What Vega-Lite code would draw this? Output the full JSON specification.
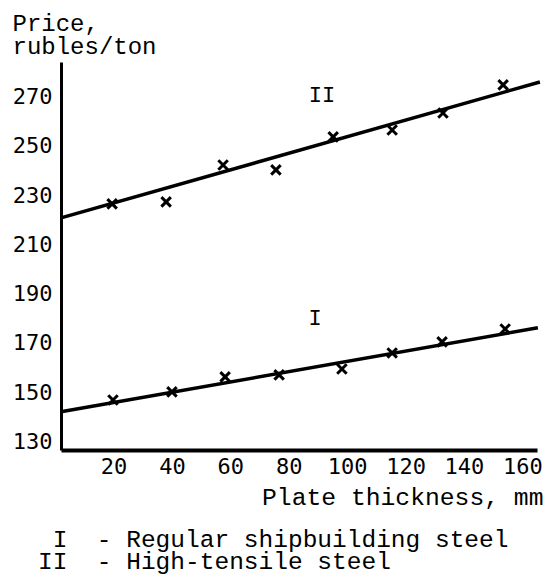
{
  "$schema": "https://vega.github.io/schema/vega-lite/v6.json",
  "autosize": "none",
  "width": 476,
  "height": 388,
  "padding": {"left": 61, "top": 62, "right": 9, "bottom": 127},
  "background": "white",
  "config": {
    "view": {"stroke": null},
    "font": "Liberation Mono"
  },
  "title": {
    "text": [
      "\u200b\u00a0I\u00a0\u00a0-\u00a0Regular shipbuilding steel",
      "\u200bII\u00a0\u00a0-\u00a0High-tensile steel"
    ],
    "orient": "bottom",
    "anchor": "start",
    "frame": "group",
    "font": "Liberation Mono",
    "fontSize": 24.5,
    "fontWeight": "normal",
    "lineHeight": 22,
    "baseline": "alphabetic",
    "color": "black",
    "dx": -23,
    "offset": 38
  },
  "datasets": {
    "lines": [
      {"steel": "I", "thickness": 2, "price": 142.0},
      {"steel": "I", "thickness": 165.3, "price": 176.1},
      {"steel": "II", "thickness": 2, "price": 220.7},
      {"steel": "II", "thickness": 166, "price": 275.9}
    ],
    "points": [
      {"steel": "I", "thickness": 19.8, "price": 146.8},
      {"steel": "I", "thickness": 40.0, "price": 150.1},
      {"steel": "I", "thickness": 58.2, "price": 156.2},
      {"steel": "I", "thickness": 76.7, "price": 157.0},
      {"steel": "I", "thickness": 98.2, "price": 159.4},
      {"steel": "I", "thickness": 115.4, "price": 165.9},
      {"steel": "I", "thickness": 132.5, "price": 170.4},
      {"steel": "I", "thickness": 154.1, "price": 175.6},
      {"steel": "II", "thickness": 19.5, "price": 226.4},
      {"steel": "II", "thickness": 38.0, "price": 227.2},
      {"steel": "II", "thickness": 57.5, "price": 242.2},
      {"steel": "II", "thickness": 75.6, "price": 240.2},
      {"steel": "II", "thickness": 95.2, "price": 253.6},
      {"steel": "II", "thickness": 115.4, "price": 256.4},
      {"steel": "II", "thickness": 132.8, "price": 263.3},
      {"steel": "II", "thickness": 153.4, "price": 274.7}
    ],
    "labels": [
      {"thickness": 91.4, "price": 270.6, "label": "II"},
      {"thickness": 89.0, "price": 180.1, "label": "I"}
    ]
  },
  "encoding": {
    "x": {
      "field": "thickness",
      "type": "quantitative",
      "scale": {"domain": [2, 165], "nice": false, "zero": false},
      "axis": {
        "title": "Plate thickness, mm",
        "titleFont": "Liberation Mono",
        "titleFontSize": 24.7,
        "titleFontWeight": "normal",
        "titleColor": "black",
        "titleAlign": "right",
        "titleAnchor": null,
        "titleBaseline": "alphabetic",
        "titleX": 482,
        "titleY": 54,
        "values": [20, 40, 60, 80, 100, 120, 140, 160],
        "ticks": false,
        "tickSize": 0,
        "labelPadding": 6,
        "labelFont": "DejaVu Sans Mono",
        "labelFontSize": 22,
        "labelColor": "black",
        "labelOverlap": false,
        "labelFlush": false,
        "domainColor": "black",
        "domainWidth": 4,
        "grid": false
      }
    },
    "y": {
      "field": "price",
      "type": "quantitative",
      "scale": {"domain": [126.5, 284], "nice": false, "zero": false},
      "axis": {
        "title": ["Price,", "rubles/ton"],
        "titleFont": "Liberation Mono",
        "titleFontSize": 24,
        "titleFontWeight": "normal",
        "titleColor": "black",
        "titleAngle": 0,
        "titleAlign": "left",
        "titleAnchor": null,
        "titleBaseline": "alphabetic",
        "titleLineHeight": 23,
        "titleX": -49,
        "titleY": -32,
        "values": [130, 150, 170, 190, 210, 230, 250, 270],
        "ticks": false,
        "tickSize": 0,
        "labelPadding": 9,
        "labelFont": "DejaVu Sans Mono",
        "labelFontSize": 22,
        "labelColor": "black",
        "labelOverlap": false,
        "labelFlush": false,
        "domainColor": "black",
        "domainWidth": 3,
        "grid": false
      }
    }
  },
  "layer": [
    {
      "data": {"name": "lines"},
      "mark": {"type": "line", "color": "black", "strokeWidth": 3.5, "clip": false},
      "encoding": {"detail": {"field": "steel"}}
    },
    {
      "data": {"name": "points"},
      "mark": {
        "type": "point",
        "shape": "M-1,-1L1,1M1,-1L-1,1",
        "filled": false,
        "color": "black",
        "strokeWidth": 3,
        "size": 90,
        "opacity": 1
      }
    },
    {
      "data": {"name": "labels"},
      "mark": {
        "type": "text",
        "font": "Liberation Mono",
        "fontSize": 22,
        "color": "black",
        "align": "center",
        "baseline": "middle"
      },
      "encoding": {"text": {"field": "label"}}
    }
  ]
}
